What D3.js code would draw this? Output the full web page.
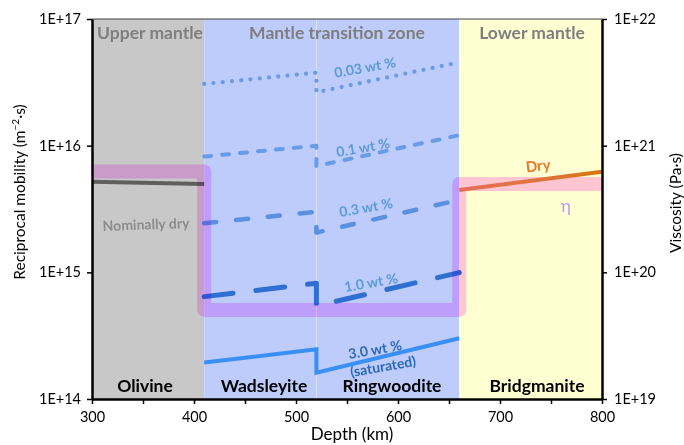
<!DOCTYPE html>
<html><head><meta charset="utf-8">
<script src="https://cdn.jsdelivr.net/npm/d3@7"></script>
<style>
body{margin:0;background:#fff;}
svg text{font-family:Lato,"Open Sans",sans-serif;}
</style></head><body>
<svg id="c" width="684" height="445"></svg>
<script>
// ---------- data ----------
const depthTicks = [300,350,400,450,500,550,600,650,700,750,800];
const depthTickLabels = ["300","","400","","500","","600","","700","","800"];
const mobTicks = [1e14,1e15,1e16,1e17];
const mobTickLabels = ["1E+14","1E+15","1E+16","1E+17"];
const viscTicks = [1e19,1e20,1e21,1e22];
const viscTickLabels = ["1E+19","1E+20","1E+21","1E+22"];

const zoneNames = ["Upper mantle","Mantle transition zone","Lower mantle"];
const zoneFrom = [300,410,660];
const zoneTo = [410,660,800];
const phaseNames = ["Olivine","Wadsleyite","Ringwoodite","Bridgmanite"];
const phaseFrom = [300,410,520,660];
const phaseTo = [410,520,660,800];

const waterDepth = [410,520,520,660];
const water003 = [3.07e16,3.77e16,2.64e16,4.55e16];
const water01  = [8.2e15,1.0e16,6.9e15,1.21e16];
const water03  = [2.44e15,3.01e15,2.06e15,3.73e15];
const water10  = [6.43e14,8.2e14,5.43e14,9.95e14];
const water30  = [1.94e14,2.47e14,1.61e14,3.02e14];

const dryUpperDepth = [300,410];
const dryUpper = [5.2e15,4.99e15];
const dryLowerDepth = [660,800];
const dryLower = [4.47e15,6.23e15];

const etaDepth = [300,410,410,660,660,800];
const eta = [6.26e20,6.26e20,5.05e19,5.05e19,4.99e20,4.99e20];

// ---------- layout ----------
const svg = d3.select("#c");
const x = d3.scaleLinear([300,800],[92,602]);
const y = d3.scaleLog([1e14,1e17],[399,19]);
const yv = d3.scaleLog([1e19,1e22],[399,19]);
const yTop = 19, yBot = 399;

const zoneLabelX = [150,337,532];
const phaseLabelX = [145,264,392,537];

// backgrounds
const bgPhase = ["#c8c8c8","#bdccfb","#bdccfb","#ffffd2"];
svg.append("g").selectAll("rect").data(phaseNames).join("rect")
  .attr("x",(d,i)=>x(phaseFrom[i])).attr("width",(d,i)=>x(phaseTo[i])-x(phaseFrom[i]))
  .attr("y",yTop).attr("height",yBot-yTop).attr("fill",(d,i)=>bgPhase[i]);
svg.append("line").attr("x1",x(520)).attr("x2",x(520)).attr("y1",yTop).attr("y2",yBot)
  .attr("stroke","rgba(255,255,255,0.3)").attr("stroke-width",1);

// zone labels
svg.append("g").selectAll("text").data(zoneNames).join("text")
  .attr("x",(d,i)=>zoneLabelX[i]).attr("y",39).attr("text-anchor","middle")
  .attr("font-size",17.5).attr("font-weight","bold").attr("fill","#7f7f7f").text(d=>d);
// phase labels
svg.append("g").selectAll("text").data(phaseNames).join("text")
  .attr("x",(d,i)=>phaseLabelX[i]).attr("y",392).attr("text-anchor","middle")
  .attr("font-size",17.5).attr("font-weight","bold").attr("fill","#000").text(d=>d);

const line = d3.line().x(d=>x(d[0])).y(d=>y(d[1]));
const lineV = d3.line().x(d=>x(d[0])).y(d=>yv(d[1]));
const zip = (a,b)=>a.map((v,i)=>[v,b[i]]);

// nominally dry upper mantle
svg.append("path").attr("d",line(zip(dryUpperDepth,dryUpper)))
  .attr("fill","none").attr("stroke","#5f5f5f").attr("stroke-width",4);

// water lines
const waterSeries = [
  {v:water003, c:"#6a9be6", w:4.3, dash:"0,9.3", join:"round"},
  {v:water01,  c:"#6a9be6", w:4, dash:"7,11", join:"round"},
  {v:water03,  c:"#5b8fe0", w:4.5, dash:"12,20", join:"round"},
  {v:water10,  c:"#2f6fd2", w:5, dash:"29,23", join:"round"},
  {v:water30,  c:"#3a8ff5", w:4, dash:null, join:"miter"}
];
waterSeries.forEach(s=>{
  const p = svg.append("path").attr("d",line(zip(waterDepth,s.v)))
    .attr("fill","none").attr("stroke",s.c).attr("stroke-width",s.w)
    .attr("stroke-linecap",s.dash?"round":"butt").attr("stroke-linejoin",s.join);
  if(s.dash) p.attr("stroke-dasharray",s.dash);
});

// eta band (multiply)
svg.append("path").attr("d",lineV(zip(etaDepth,eta)))
  .attr("fill","none").attr("stroke","#ffc6ff").attr("stroke-width",14)
  .attr("stroke-linejoin","round").attr("stroke-linecap","butt")
  .style("mix-blend-mode","multiply");

// dry lower mantle line (gradient)
const defs = svg.append("defs");
const g = defs.append("linearGradient").attr("id","dryGrad")
  .attr("gradientUnits","userSpaceOnUse")
  .attr("x1",x(660)).attr("x2",x(800)).attr("y1",0).attr("y2",0);
g.append("stop").attr("offset","0%").attr("stop-color","#e66f5c");
g.append("stop").attr("offset","60%").attr("stop-color","#e0743a");
g.append("stop").attr("offset","100%").attr("stop-color","#d4780c");
svg.append("path").attr("d",line(zip(dryLowerDepth,dryLower)))
  .attr("fill","none").attr("stroke","url(#dryGrad)").attr("stroke-width",4);

// line labels
const labels = [
  {t:"0.03 wt %", x:365, y:67, r:-10, c:"#5c9ad8", s:14, w:"bold"},
  {t:"0.1 wt %", x:363, y:147, r:-10, c:"#5c9ad8", s:14, w:"bold"},
  {t:"0.3 wt %", x:366, y:207, r:-10, c:"#5c9ad8", s:14, w:"bold"},
  {t:"1.0 wt %", x:371, y:282, r:-10, c:"#5c9ad8", s:14, w:"bold"},
  {t:"3.0 wt %", x:375, y:349, r:-10, c:"#2c68b8", s:14, w:"bold"},
  {t:"(saturated)", x:383, y:366, r:-10, c:"#2c68b8", s:14, w:"bold"},
  {t:"Nominally dry", x:146, y:224, r:-2, c:"#8c8c8c", s:14, w:"bold"},
  {t:"Dry", x:538, y:165, r:-7, c:"#e8782c", s:15, w:"bold"},
];
svg.append("g").selectAll("text").data(labels).join("text")
  .attr("transform",d=>`translate(${d.x},${d.y}) rotate(${d.r})`)
  .attr("text-anchor","middle").attr("dominant-baseline","central")
  .attr("font-size",d=>d.s).attr("font-weight",d=>d.w).attr("fill",d=>d.c).text(d=>d.t);
svg.append("text").attr("x",566).attr("y",205).attr("text-anchor","middle")
  .attr("dominant-baseline","central").attr("font-size",17).attr("fill","#c093f5").text("η");

// top border
svg.append("line").attr("x1",92).attr("x2",602).attr("y1",yTop).attr("y2",yTop)
  .attr("stroke","#404040").attr("stroke-width",1);

// axes
function styleAxis(sel){
  sel.select(".domain").attr("stroke","#000").attr("stroke-width",2.5);
  sel.selectAll(".tick line").attr("stroke","#000").attr("stroke-width",1.5);
  sel.selectAll(".tick text").attr("font-size",14.5).attr("fill","#000")
    .style("font-family","Lato, 'Open Sans', sans-serif");
}
svg.append("g").attr("transform",`translate(0,${yBot})`)
  .call(d3.axisBottom(x).tickValues(depthTicks).tickFormat((d,i)=>depthTickLabels[i])
    .tickSize(5).tickSizeOuter(0).tickPadding(8)).call(styleAxis);
svg.append("g").attr("transform",`translate(92,0)`)
  .call(d3.axisLeft(y).tickValues(mobTicks).tickFormat((d,i)=>mobTickLabels[i])
    .tickSize(5).tickSizeOuter(0).tickPadding(6)).call(styleAxis);
svg.append("g").attr("transform",`translate(602,0)`)
  .call(d3.axisRight(yv).tickValues(viscTicks).tickFormat((d,i)=>viscTickLabels[i])
    .tickSize(5).tickSizeOuter(0).tickPadding(7)).call(styleAxis);

// axis titles
const lt = svg.append("text").attr("transform","translate(25,192) rotate(-90)")
  .attr("text-anchor","middle").attr("font-size",15.5).attr("fill","#000");
lt.append("tspan").text("Reciprocal mobility (m");
lt.append("tspan").attr("baseline-shift","super").attr("font-size",10).text("−2");
lt.append("tspan").text("·s)");
svg.append("text").attr("transform","translate(681,203) rotate(-90)")
  .attr("text-anchor","middle").attr("font-size",15.5).attr("fill","#000").text("Viscosity (Pa·s)");
svg.append("text").attr("x",352).attr("y",440).attr("text-anchor","middle")
  .attr("font-size",17).attr("fill","#000").text("Depth (km)");
</script></body></html>
